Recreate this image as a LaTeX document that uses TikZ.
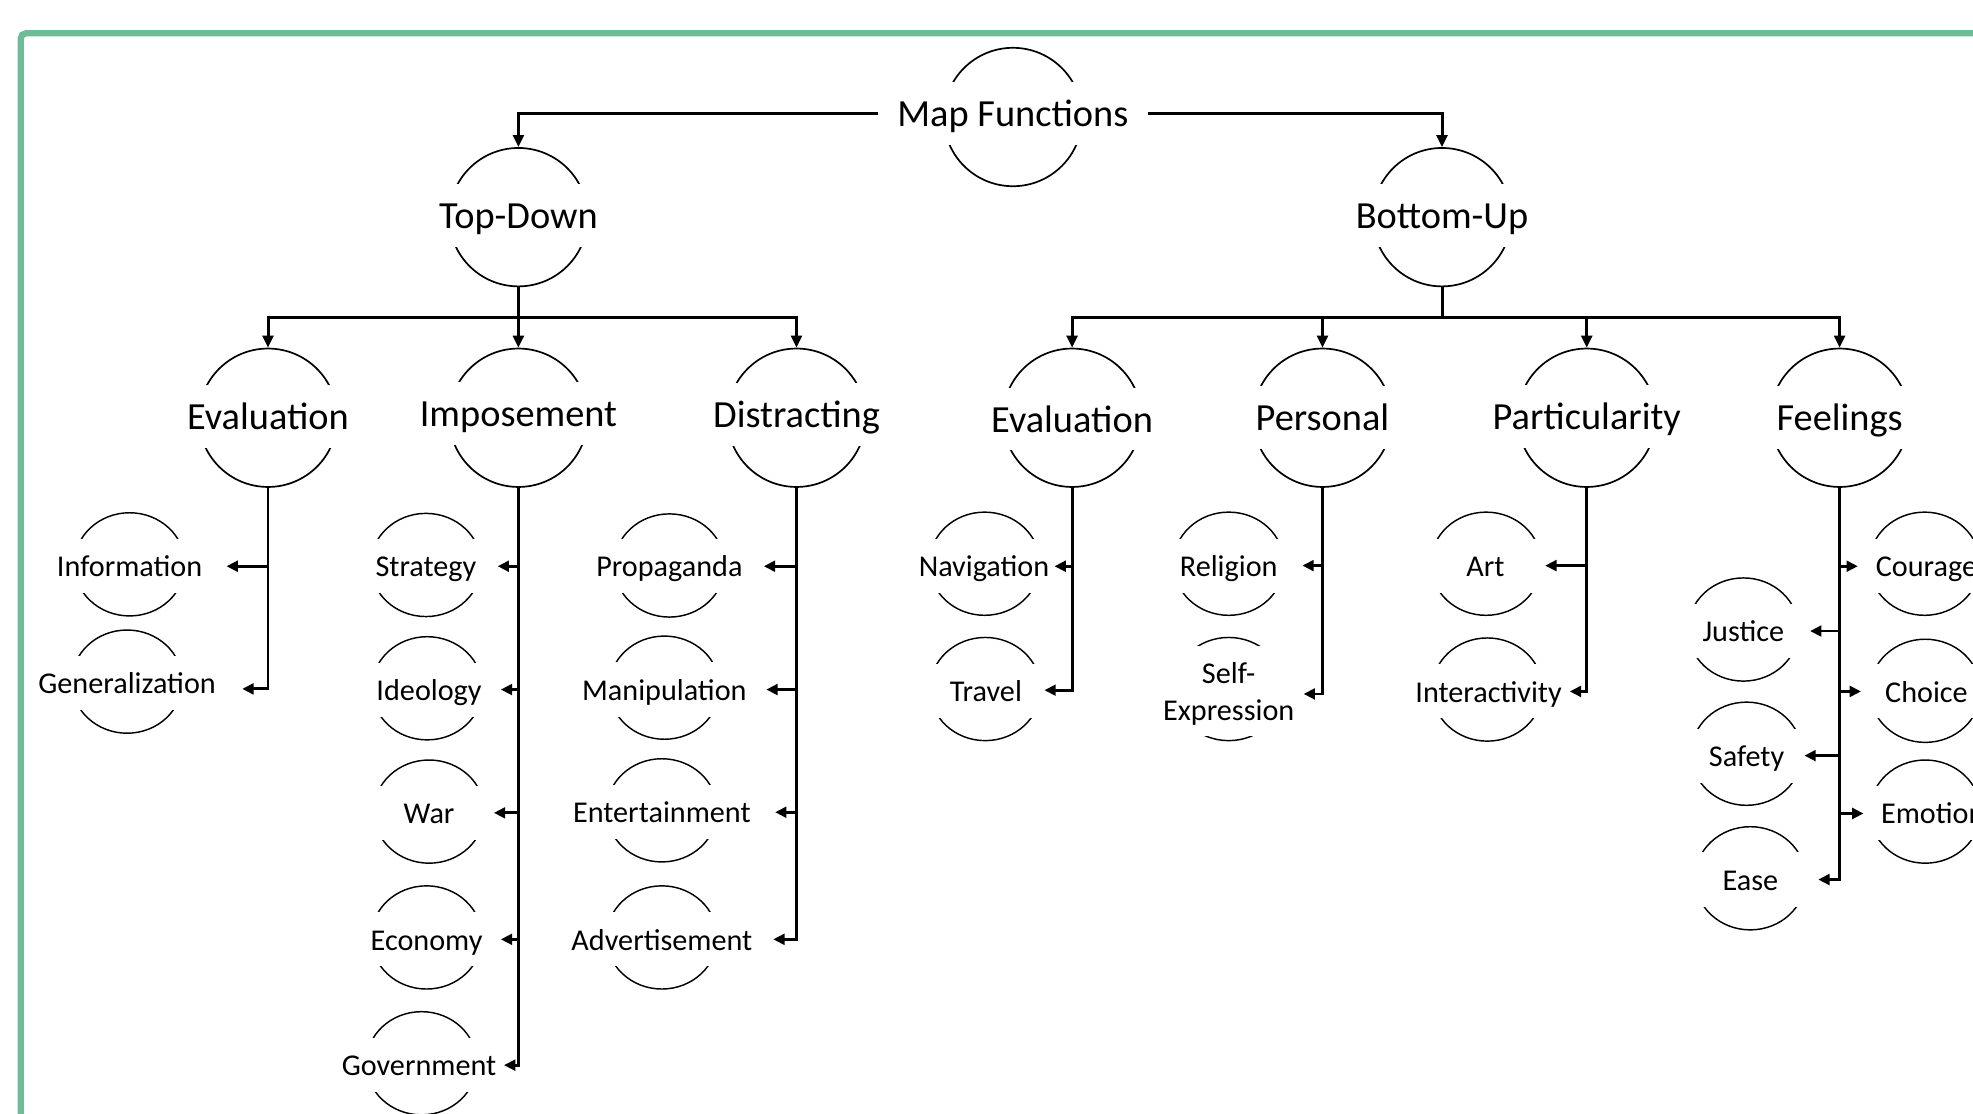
\documentclass[tikz,border=0pt]{standalone}
\usepackage{fontspec}
\setmainfont{Carlito}
\usetikzlibrary{arrows.meta,shapes.geometric}
\definecolor{frameGreen}{RGB}{110,187,151}
\tikzset{
  bigC/.style={circle, draw, line width=1.35pt, minimum size=110pt, inner sep=0pt},
  smallE/.style={ellipse, draw, line width=1.15pt, minimum width=88pt, minimum height=82pt, inner sep=0pt},
  bigL/.style={fill=white, font=\fontsize{30.5}{36}\selectfont, minimum height=50pt, minimum width=112pt, inner xsep=15.5pt, inner ysep=0pt, text height=26pt, text depth=5pt},
  leafbase/.style={fill=white, font=\fontsize{24}{29.5}\selectfont, minimum height=43pt, minimum width=96pt, inner xsep=3pt, inner ysep=0pt},
  leaf/.style={leafbase, text height=21pt, text depth=4pt},
  conn/.style={line width=2.4pt},
  arrA/.style={conn, -{Triangle[length=9.5pt,width=8.5pt]}},
  arrB/.style={line width=2.3pt, -{Triangle[length=9pt,width=8.5pt]}},
}
\begin{document}
\begin{tikzpicture}[x=1pt,y=-1pt]
\fill[white] (0,0) rectangle (1568,885);
\useasboundingbox (0,0) rectangle (1568,885);
\clip (0,0) rectangle (1568,885);
\draw[frameGreen, line width=5pt, rounded corners=4pt] (16.5,26.5) rectangle (1640,960);

% ---------- level 0 and 1
\node[bigC] (mfC) at (805,93) {};
\node[bigL] (mf) at (805,90) {Map Functions};
\node[bigC] (tdC) at (412,172.6) {};
\node[bigL] (td) at (412,171) {Top-Down};
\node[bigC] (buC) at (1146,172.6) {};
\node[bigL] (bu) at (1146,171) {Bottom-Up};

% ---------- level 2
\node[bigC] (ev1C) at (213,332) {};
\node[bigL] (ev1) at (213,331) {Evaluation};
\node[bigC] (impC) at (412,332) {};
\node[bigL] (imp) at (412,328.5) {Imposement};
\node[bigC] (disC) at (633,332) {};
\node[bigL] (dis) at (633,329.5) {Distracting};
\node[bigC] (ev2C) at (852,332) {};
\node[bigL] (ev2) at (852,333) {Evaluation};
\node[bigC] (perC) at (1051,332) {};
\node[bigL] (per) at (1051,332) {Personal};
\node[bigC] (parC) at (1261,332) {};
\node[bigL] (par) at (1261,331) {Particularity};
\node[bigC] (feeC) at (1462,332) {};
\node[bigL] (fee) at (1462,332) {Feelings};

% ---------- level 3
\node[smallE] (infoE) at (103,448.5) {};
\node[leaf] (info) at (103,450) {Information};
\node[smallE] (genE) at (101,541.7) {};
\node[leaf] (gen) at (101,543) {Generalization};

\node[smallE] (strE) at (338.5,449) {};
\node[leaf] (str) at (338.5,450) {Strategy};
\node[smallE] (ideoE) at (339.5,547) {};
\node[leaf] (ideo) at (341,548.5) {Ideology};
\node[smallE] (warE) at (341,645) {};
\node[leaf] (war) at (341,646) {War};
\node[smallE] (ecoE) at (339,745) {};
\node[leaf] (eco) at (339,746.5) {Economy};
\node[smallE] (govE) at (335,845) {};
\node[leaf] (gov) at (333,846.5) {Government};

\node[smallE] (propE) at (532,449.4) {};
\node[leaf] (prop) at (532,450) {Propaganda};
\node[smallE] (manE) at (528,546.5) {};
\node[leaf] (man) at (528,548) {Manipulation};
\node[smallE] (entE) at (526,644) {};
\node[leaf] (ent) at (526,645.5) {Entertainment};
\node[smallE] (advE) at (526,745) {};
\node[leaf] (adv) at (526,746.5) {Advertisement};

\node[smallE] (navE) at (782.5,448) {};
\node[leaf] (nav) at (782,450) {Navigation};
\node[smallE] (traE) at (783,547.6) {};
\node[leaf] (tra) at (783.5,549) {Travel};

\node[smallE] (relE) at (976.5,448) {};
\node[leaf] (rel) at (976.5,450) {Religion};
\node[smallE] (selfE) at (976.5,547.6) {};
\node[leafbase, minimum height=71pt] (selfB) at (976.5,549.2) {};
\node[leafbase, fill=none, align=center] (self) at (976.5,551.5) {Self-\\Expression};

\node[smallE] (artE) at (1181,448) {};
\node[leaf] (art) at (1180.5,450) {Art};
\node[smallE] (intE) at (1182,548) {};
\node[leaf] (int) at (1183,549.5) {Interactivity};

\node[smallE] (couE) at (1529.5,448) {};
\node[leaf] (cou) at (1531,450) {Courage};
\node[smallE] (choE) at (1530,549) {};
\node[leaf] (cho) at (1531,549.5) {Choice};
\node[smallE] (emoE) at (1530,645) {};
\node[leaf, minimum width=108pt] (emo) at (1536,646) {Emotion};
\node[smallE] (jusE) at (1385.5,500.3) {};
\node[leaf] (jus) at (1385.5,501.5) {Justice};
\node[smallE] (safE) at (1388,599) {};
\node[leaf] (saf) at (1388,600.5) {Safety};
\node[smallE] (easE) at (1391,698) {};
\node[leaf] (eas) at (1391,699) {Ease};

% ---------- arrow tips of level 3
\coordinate (infoT) at (180,450);
\coordinate (genT) at (192.5,547.5);
\coordinate (strT) at (395.5,450);
\coordinate (ideoT) at (398,548);
\coordinate (warT) at (392.5,646);
\coordinate (ecoT) at (398,746.5);
\coordinate (govT) at (400.5,846.5);
\coordinate (propT) at (607,450);
\coordinate (manT) at (609,548);
\coordinate (entT) at (616,645.5);
\coordinate (advT) at (614.5,746.5);
\coordinate (navT) at (838,450);
\coordinate (traT) at (830,548.5);
\coordinate (relT) at (1035,449.5);
\coordinate (selfT) at (1036,551.5);
\coordinate (artT) at (1228,449.5);
\coordinate (intT) at (1247.5,549.5);
\coordinate (couT) at (1476.5,450);
\coordinate (choT) at (1479,549.5);
\coordinate (emoT) at (1481,646.5);
\coordinate (jusT) at (1438.5,501.5);
\coordinate (safT) at (1434,600.5);
\coordinate (easT) at (1445,699);

% ---------- connectors level 0 -> 1
\draw[arrA] (mf.west) -| (tdC.north);
\draw[arrA] (mf.east) -| (buC.north);

% ---------- level 1 -> 2
\coordinate (tdJ) at (412,252);
\coordinate (buJ) at (1146,252);
\draw[arrA] (tdC.south) -- (impC.north);
\draw[arrA] (tdJ) -| (ev1C.north);
\draw[arrA] (tdJ) -| (disC.north);
\draw[conn] (buC.south) -- (buJ);
\draw[arrA] (buJ) -| (ev2C.north);
\draw[arrA] (buJ) -| (perC.north);
\draw[arrA] (buJ) -| (parC.north);
\draw[arrA] (buJ) -| (feeC.north);

% ---------- level 2 -> 3
\draw[arrB] (ev1C.south) |- (genT);
\draw[arrB] (ev1C.south |- infoT) -- (infoT);

\draw[arrB] (impC.south) |- (govT);
\draw[arrB] (impC.south |- strT) -- (strT);
\draw[arrB] (impC.south |- ideoT) -- (ideoT);
\draw[arrB] (impC.south |- warT) -- (warT);
\draw[arrB] (impC.south |- ecoT) -- (ecoT);

\draw[arrB] (disC.south) |- (advT);
\draw[arrB] (disC.south |- propT) -- (propT);
\draw[arrB] (disC.south |- manT) -- (manT);
\draw[arrB] (disC.south |- entT) -- (entT);

\draw[arrB] (ev2C.south) |- (traT);
\draw[arrB] (ev2C.south |- navT) -- (navT);

\draw[arrB] (perC.south) |- (selfT);
\draw[arrB] (perC.south |- relT) -- (relT);

\draw[arrB] (parC.south) |- (intT);
\draw[arrB] (parC.south |- artT) -- (artT);

\draw[arrB] (feeC.south) |- (easT);
\draw[arrB] (feeC.south |- couT) -- (couT);
\draw[arrB] (feeC.south |- jusT) -- (jusT);
\draw[arrB] (feeC.south |- choT) -- (choT);
\draw[arrB] (feeC.south |- safT) -- (safT);
\draw[arrB] (feeC.south |- emoT) -- (emoT);
\end{tikzpicture}
\end{document}
